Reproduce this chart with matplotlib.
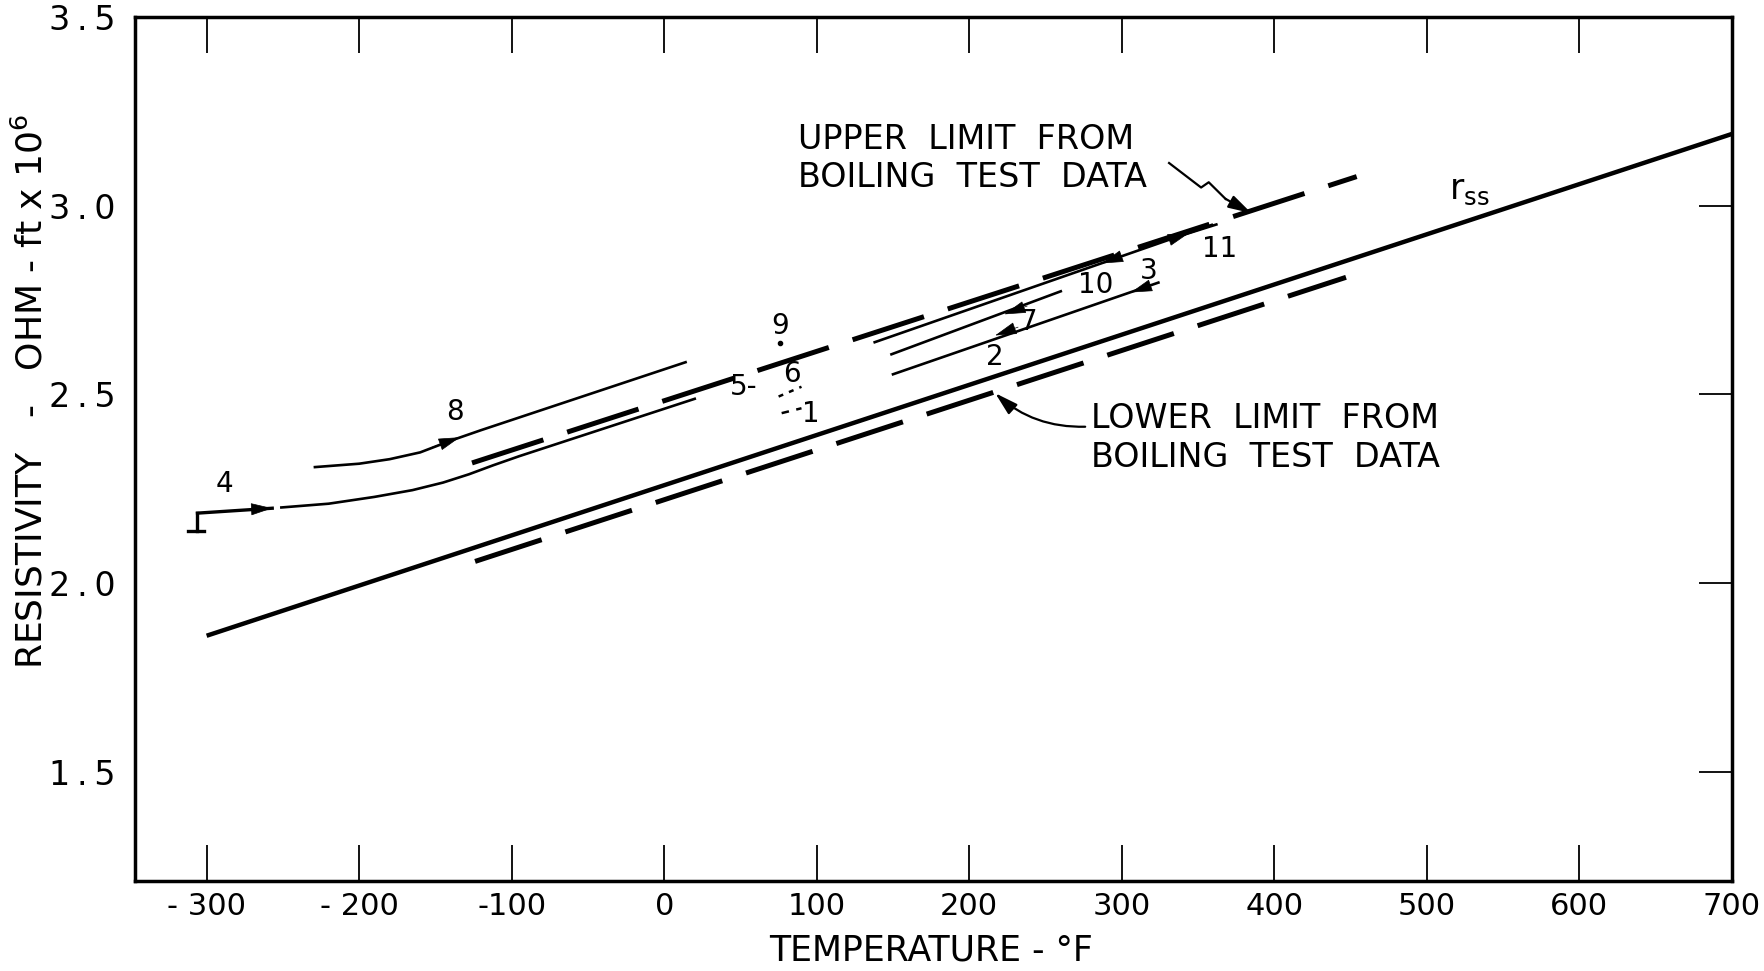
import matplotlib
matplotlib.use("Agg")
import matplotlib.pyplot as plt
from matplotlib import font_manager

# narrow face for the stencil-like lettering, if present
names = {f.name for f in font_manager.fontManager.ttflist}
narrow = 'Liberation Sans Narrow' if 'Liberation Sans Narrow' in names else 'DejaVu Sans'

# --- values (temperature F, resistivity ohm-ft x 1e6) ---
rss_t = [-300, 700]
rss_r = [1.86, 3.19]

upper_t = [-126, 454]
upper_r = [2.318, 3.077]
lower_t = [-124, 447]
lower_r = [2.057, 2.810]

run4_t = [-251, -220, -190, -165, -145, -128, -112, -95, 20]
run4_r = [2.200, 2.210, 2.228, 2.246, 2.266, 2.288, 2.312, 2.336, 2.488]
run4_start_t = [-312, -302, -306, -306]
run4_start_r = [2.137, 2.137, 2.137, 2.185]

run8_t = [-229, -200, -180, -160, -140, -120, 14]
run8_r = [2.307, 2.316, 2.328, 2.346, 2.377, 2.405, 2.585]

run10_t = [138, 359]
run10_r = [2.638, 2.949]
run11_t = [340, 362]
run11_r = [2.922, 2.950]
run7_t = [149, 260]
run7_r = [2.606, 2.773]
run2_t = [150, 324]
run2_r = [2.553, 2.796]
run5_t = [75, 90]
run5_r = [2.494, 2.520]
run1_t = [77, 90]
run1_r = [2.450, 2.463]
run9_t = [76]
run9_r = [2.635]

# arrow heads: (tail t, tail r, tip t, tip r)
heads = [
    (-272, 2.195, -257, 2.198),   # run 4 start
    (-152, 2.360, -134, 2.386),   # run 8
    (302, 2.869, 287, 2.847),     # run 10
    (328, 2.905, 344, 2.927),     # run 11
    (238, 2.734, 223, 2.712),     # run 7
    (232, 2.678, 217, 2.656),     # run 2
    (320, 2.790, 306, 2.770),     # run 3
]

run_labels = ['8', '4', '9', '6', '5-', '1', '7', '2', '10', '3', '11']
label_t = [-137, -288, 76, 84, 52, 96, 239, 217, 283, 318, 364]
label_r = [2.452, 2.262, 2.680, 2.555, 2.520, 2.449, 2.692, 2.600, 2.789, 2.826, 2.884]

upper_arrow_t = [331, 352, 357, 368, 385]
upper_arrow_r = [3.113, 3.048, 3.062, 3.018, 2.980]

xticks = [-300, -200, -100, 0, 100, 200, 300, 400, 500, 600, 700]
xtick_labels = ['- 300', '- 200', '-100', '0', '100', '200', '300', '400', '500', '600', '700']
yticks = [1.5, 2.0, 2.5, 3.0, 3.5]
ytick_labels = ['1\u2009.\u20095', '2\u2009.\u20090', '2\u2009.\u20095', '3\u2009.\u20090', '3\u2009.\u20095']

fig = plt.figure(figsize=(17.64, 9.71), dpi=100)
ax = fig.add_axes([0.0765, 0.0927, 0.9053, 0.8898])

k = 'black'
ax.plot(rss_t, rss_r, color=k, lw=3.2, solid_capstyle='butt')
ax.plot(upper_t, upper_r, color=k, lw=3.6, dashes=(15, 5), dash_capstyle='butt')
ax.plot(lower_t, lower_r, color=k, lw=3.6, dashes=(14, 5), dash_capstyle='butt')

thin = 1.9
ax.plot(run4_t, run4_r, color=k, lw=thin)
ax.plot(run4_start_t[:2], run4_start_r[:2], color=k, lw=2.4)
ax.plot(run4_start_t[2:], run4_start_r[2:], color=k, lw=2.4)
ax.plot([run4_start_t[3], heads[0][2]], [run4_start_r[3], heads[0][3]], color=k, lw=2.4)
ax.plot(run8_t, run8_r, color=k, lw=thin)
ax.plot(run10_t, run10_r, color=k, lw=thin)
ax.plot(run11_t, run11_r, color=k, lw=thin)
ax.plot(run7_t, run7_r, color=k, lw=thin)
ax.plot(run2_t, run2_r, color=k, lw=thin)
ax.plot(run5_t, run5_r, color=k, lw=1.8, dashes=(2, 2.5))
ax.plot(run1_t, run1_r, color=k, lw=1.8, dashes=(3, 3))
ax.plot(run9_t, run9_r, 'o', color=k, ms=3)

hstyle = '-|>,head_length=1.4,head_width=0.4'
for t0, r0, t1, r1 in heads:
    ax.annotate('', xy=(t1, r1), xytext=(t0, r0),
                arrowprops=dict(arrowstyle=hstyle, fc=k, ec=k, lw=0.5,
                                shrinkA=0, shrinkB=0))

for s, t, r in zip(run_labels, label_t, label_r):
    ax.text(t, r, s, fontsize=20, ha='center', va='center', color=k)

ax.text(528, 3.042, r'r$_{\mathrm{ss}}$', fontsize=25, ha='center', va='center')

# annotations for the boiling test limits
ax.text(88, 3.125, 'UPPER  LIMIT  FROM\nBOILING  TEST  DATA', fontsize=24,
        ha='left', va='center', linespacing=1.2)
ax.plot(upper_arrow_t[:-1], upper_arrow_r[:-1], color=k, lw=1.6)
ax.annotate('', xy=(upper_arrow_t[-1], upper_arrow_r[-1]),
            xytext=(upper_arrow_t[-2], upper_arrow_r[-2]),
            arrowprops=dict(arrowstyle=hstyle, fc=k, ec=k, lw=1.6,
                            shrinkA=0, shrinkB=0))

ax.text(280, 2.384, 'LOWER  LIMIT  FROM\nBOILING  TEST  DATA', fontsize=24,
        ha='left', va='center', linespacing=1.2)
ax.annotate('', xy=(217, 2.503), xytext=(276, 2.414),
            arrowprops=dict(arrowstyle=hstyle, connectionstyle='arc3,rad=-0.2',
                            fc=k, ec=k, lw=1.6, shrinkA=0, shrinkB=0))

ax.set_xlim(-347, 700)
ax.set_ylim(1.21, 3.495)
ax.set_xticks(xticks)
ax.set_xticklabels(xtick_labels, fontsize=22, family=narrow)
ax.set_yticks(yticks)
ax.set_yticklabels(ytick_labels, fontsize=24)
ax.tick_params(axis='x', direction='in', top=True, bottom=True, length=26, width=1.3, pad=8)
ax.tick_params(axis='y', direction='in', left=False, right=True, labelleft=True,
               length=24, width=1.3, pad=14)
for sp in ax.spines.values():
    sp.set_linewidth(2.5)

fig.text(931.5 / 1764, 1 - 950 / 971, 'TEMPERATURE - \u00b0F', fontsize=25, family=narrow,
         ha='center', va='center')
fig.text(31 / 1764, 1 - 391 / 971, r'RESISTIVITY   -   OHM - ft x 10$^{6}$', fontsize=26,
         rotation=90, ha='center', va='center')

fig.savefig('out.png', dpi=100)
